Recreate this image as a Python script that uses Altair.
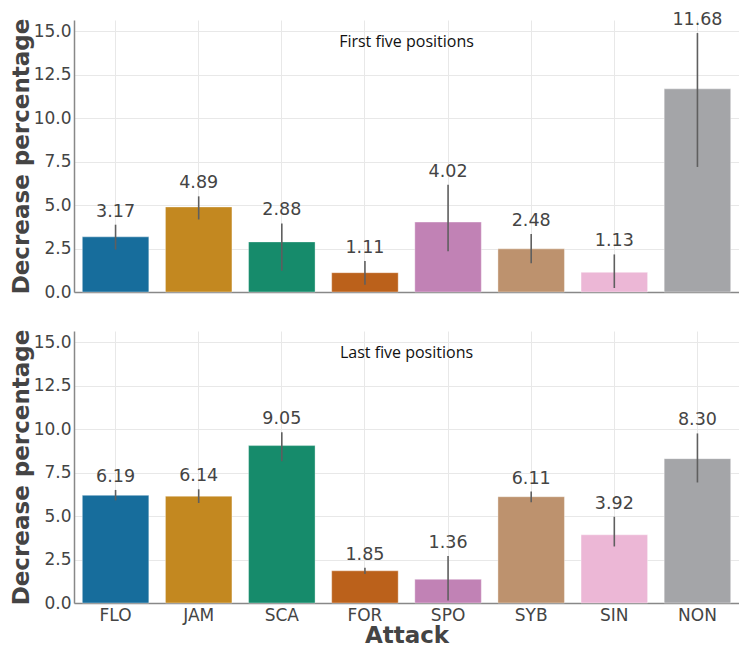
import altair as alt
import pandas as pd

attacks = ["FLO", "JAM", "SCA", "FOR", "SPO", "SYB", "SIN", "NON"]
colors = ["#176d9c", "#c38820", "#168b6b", "#bb611b", "#c182b5", "#bd926e", "#ecb7d6", "#a4a5a8"]

first_vals = [3.17, 4.89, 2.88, 1.11, 4.02, 2.48, 1.13, 11.68]
first_lo = [2.44, 4.17, 1.22, 0.41, 2.35, 1.65, 0.23, 7.19]
first_hi = [3.87, 5.50, 3.94, 1.78, 6.16, 3.34, 2.16, 14.89]

last_vals = [6.19, 6.14, 9.05, 1.85, 1.36, 6.11, 3.92, 8.30]
last_lo = [5.90, 5.75, 8.15, 1.67, 0.15, 5.80, 3.25, 6.93]
last_hi = [6.50, 6.54, 9.82, 2.03, 2.70, 6.41, 4.96, 9.75]

y_ticks = [0, 2.5, 5, 7.5, 10, 12.5, 15]
Y_MAX = 15.64

W, H = 665, 272


def panel(vals, lo, hi, note, show_x):
    df = pd.DataFrame({
        "Attack": attacks,
        "val": vals,
        "lo": lo,
        "hi": hi,
        "label": [f"{v:.2f}" for v in vals],
    })
    xaxis = alt.Axis(
        title="Attack" if show_x else None,
        labels=show_x,
        ticks=False,
        labelAngle=0,
        labelFontSize=17,
        labelColor="#444444",
        labelFont="DejaVu Sans",
        labelPadding=4,
        titleFontSize=23,
        titleFont="DejaVu Sans",
        titleFontWeight="bold",
        titleColor="#444444",
        titlePadding=1,
        grid=True,
        gridColor="#e8e8e8",
        bandPosition=0.5,
        domainColor="#888888",
        domainWidth=1.5,
    )
    x = alt.X("Attack:N", sort=attacks,
              scale=alt.Scale(paddingInner=0.2, paddingOuter=0.1),
              axis=xaxis)
    yaxis = alt.Axis(
        title="Decrease percentage",
        values=y_ticks,
        format=".1f",
        ticks=False,
        labelFontSize=17,
        labelColor="#444444",
        labelFont="DejaVu Sans",
        labelPadding=3,
        titleFontSize=23,
        titleFont="DejaVu Sans",
        titleFontWeight="bold",
        titleColor="#444444",
        titlePadding=0,
        gridColor="#e8e8e8",
        domainColor="#888888",
        domainWidth=1.5,
    )
    yscale = alt.Scale(domain=[0, Y_MAX], nice=False)
    base = alt.Chart(df)
    bars = base.mark_bar(stroke="#ffffff", strokeWidth=0.6, strokeOpacity=0.6).encode(
        x=x,
        y=alt.Y("val:Q", scale=yscale, axis=yaxis),
        color=alt.Color("Attack:N", scale=alt.Scale(domain=attacks, range=colors), legend=None),
    )
    errs = base.mark_rule(color="#5f5f5f", strokeWidth=1.6).encode(
        x=alt.X("Attack:N", sort=attacks),
        y="lo:Q",
        y2="hi:Q",
    )
    labels = base.mark_text(baseline="bottom", dy=-4, fontSize=17.5,
                            font="DejaVu Sans", color="#444444").encode(
        x=alt.X("Attack:N", sort=attacks),
        y="hi:Q",
        text="label:N",
    )
    note_df = pd.DataFrame({"t": [note]})
    note_mark = alt.Chart(note_df).mark_text(
        fontSize=16, font="Open Sans", color="#111111", baseline="middle", align="center"
    ).encode(x=alt.value(W / 2), y=alt.value(22), text="t:N")
    return alt.layer(bars, errs, labels, note_mark).properties(width=W, height=H)


top = panel(first_vals, first_lo, first_hi, "First five positions", False)
bottom = panel(last_vals, last_lo, last_hi, "Last five positions", True)

chart = alt.vconcat(top, bottom, spacing=29).properties(
    padding={"left": 2, "top": 3, "right": 0, "bottom": 0}
).configure_view(stroke=None)

chart.save("out.html", embed_options={"renderer": "svg", "actions": False})
